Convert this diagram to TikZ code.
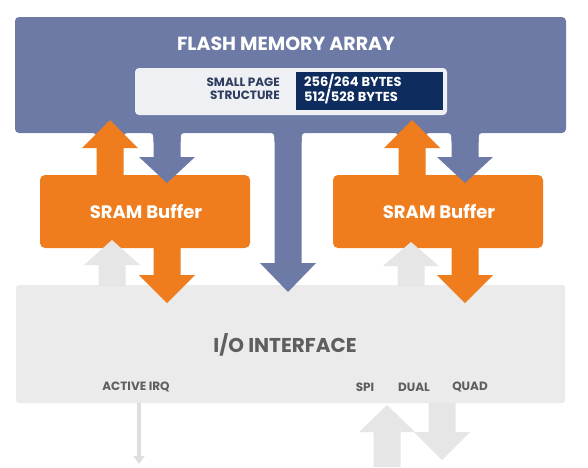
\documentclass[tikz,border=0pt]{standalone}
\usepackage{fontspec}
\setmainfont{Poppins}
\usetikzlibrary{arrows.meta}
\definecolor{flashblue}{HTML}{6D7AA6}
\definecolor{navy}{HTML}{0E2C5E}
\definecolor{lightbox}{HTML}{EEF0F4}
\definecolor{sramorange}{HTML}{EF7D1E}
\definecolor{iogray}{HTML}{EBEBEB}
\definecolor{arrowgray}{HTML}{E6E6E6}
\definecolor{linegray}{HTML}{DEDEDE}
\definecolor{labelgray}{HTML}{5E5E5E}
\definecolor{pagetext}{HTML}{2E3D5F}
% block arrow: colour, x, y of base, y of head base, y of tip
\newcommand\blockarrow[5]{%
  \fill[#1] (#2-13.5,#3) -- (#2-13.5,#4) -- (#2-28,#4) -- (#2,#5) -- (#2+28,#4) -- (#2+13.5,#4) -- (#2+13.5,#3) -- cycle;}
% concave blue fillet under the band at a stem
\newcommand\bandfillet[1]{%
  \fill[flashblue] (#1-22,132) -- (#1+22,132) .. controls (#1+13.5,133) .. (#1+13.5,142) -- (#1-13.5,142) .. controls (#1-13.5,133) .. (#1-22,132) -- cycle;}
\tikzset{
  titletext/.style={text=white, font=\fontsize{19}{19}\selectfont\bfseries, inner sep=0pt},
  sramtext/.style={text=white, font=\fontsize{18}{18}\selectfont\bfseries, inner sep=0pt},
  iotext/.style={text=labelgray, font=\fontsize{20}{20}\selectfont\bfseries, inner sep=0pt},
  smalllabel/.style={text=labelgray, font=\fontsize{12}{12}\selectfont\bfseries, inner sep=0pt},
  pagelabel/.style={font=\fontsize{12}{13.5}\selectfont\bfseries, inner sep=0pt, align=right},
}
\begin{document}
\begin{tikzpicture}[x=1pt,y=-1pt]
\useasboundingbox (0,0) rectangle (588,467);
\fill[white] (0,0) rectangle (588,467);
% flash memory array
\fill[flashblue, rounded corners=4pt] (15,17) rectangle (566,133);
\node[titletext] (flash) at (286,44) {FLASH MEMORY ARRAY};
\fill[lightbox, rounded corners=4pt] (135,68) rectangle (447,115);
\fill[navy] (296,72) rectangle (443,110);
\node[pagelabel, text=pagetext, anchor=east] (page) at (280,89) {SMALL PAGE\\STRUCTURE};
\node[pagelabel, text=white, anchor=west, align=left, font=\fontsize{13}{13.5}\selectfont\bfseries] (bytes) at (304,89) {256/264 BYTES\\512/528 BYTES};
% I/O interface
\fill[iogray, rounded corners=3pt] (16,285) rectangle (565,403);
\node[iotext] (io) at (285,345) {I/O INTERFACE};
\node[smalllabel] (irq) at (136,387) {ACTIVE IRQ};
\node[smalllabel] (spi) at (365,387) {SPI};
\node[smalllabel] (dual) at (414,387) {DUAL};
\node[smalllabel] (quad) at (470,387) {QUAD};
% SRAM buffers
\fill[sramorange, rounded corners=5pt] (40,175) rectangle (250,248);
\node[sramtext] (sramL) at (146,212) {SRAM Buffer};
\fill[sramorange, rounded corners=5pt] (333,175) rectangle (543,248);
\node[sramtext] (sramR) at (439,212) {SRAM Buffer};
% blue arrows from the array
\bandfillet{167}\blockarrow{flashblue}{167}{133}{157}{183}
\bandfillet{465}\blockarrow{flashblue}{465}{133}{157}{183}
\bandfillet{288}\blockarrow{flashblue}{288}{133}{263}{292}
% orange arrows up into the array
\bandfillet{110}\blockarrow{sramorange}{110}{176}{148}{120}
\bandfillet{412}\blockarrow{sramorange}{412}{176}{148}{120}
% orange arrows down into I/O
\blockarrow{sramorange}{167}{247}{275}{303}
\blockarrow{sramorange}{465}{247}{275}{303}
% gray arrows from I/O up to the buffers
\blockarrow{arrowgray}{112}{286}{265}{240}
\blockarrow{arrowgray}{411}{286}{266}{242}
% external gray arrows
\blockarrow{arrowgray}{387}{467}{432}{405}
\blockarrow{arrowgray}{442}{403}{432}{460}
\coordinate (irqtop) at (139,403);
\coordinate (irqend) at (139,464);
\draw[linegray, line width=4.5pt, -{Triangle[width=11pt,length=8pt]}] (irqtop) -- (irqend);
\end{tikzpicture}
\end{document}
